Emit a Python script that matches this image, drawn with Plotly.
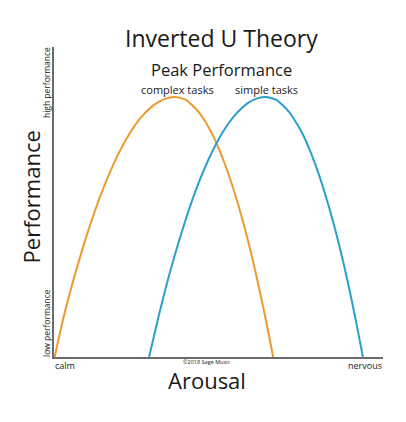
import plotly.graph_objects as go

# Arousal (0 = calm, 100 = nervous) and performance (0 = low, 100 = high)
complex_x = [0.2, 3, 6, 10, 14, 18, 22, 26, 30, 33.5, 36.8, 40, 44, 48, 52, 56, 60, 63, 65, 66.6]
complex_y = [0.0, 13.2, 25.2, 39.4, 51.7, 62.0, 70.3, 76.7, 81.0, 83.2, 83.9,
             83.0, 79.0, 72.1, 62.1, 49.1, 33.1, 19.0, 8.8, 0.0]

simple_x = [28.9, 32, 35, 39, 43, 47, 51, 55, 59, 62, 64.4, 67.5, 71.5, 75.5, 79.5, 83.5, 87.5, 90.5, 92.5, 93.9]
simple_y = [0.0, 14.0, 26.4, 40.9, 53.5, 63.8, 72.0, 78.0, 82.0, 83.5, 83.9,
            83.0, 79.0, 72.1, 61.9, 48.7, 32.5, 18.2, 7.7, 0.0]

title_text = "Inverted U Theory"
peak_text = "Peak Performance"
series_names = ["complex tasks", "simple tasks"]
x_labels = ["calm", "nervous"]
y_labels = ["low performance", "high performance"]

FONT = "Open Sans"
ORANGE = "#EE9A2E"
BLUE = "#2B9FCF"
TXT = "#1a1a1a"

fig = go.Figure()
fig.add_trace(go.Scatter(x=complex_x, y=complex_y, mode="lines", name=series_names[0],
                         line=dict(color=ORANGE, width=2, shape="spline", smoothing=0.6)))
fig.add_trace(go.Scatter(x=simple_x, y=simple_y, mode="lines", name=series_names[1],
                         line=dict(color=BLUE, width=2, shape="spline", smoothing=0.6)))

def ann(text, x, y, size, xanchor="center", yanchor="middle", angle=0):
    fig.add_annotation(text=text, x=x, y=y, xref="paper", yref="paper", showarrow=False,
                       xanchor=xanchor, yanchor=yanchor, textangle=angle, borderpad=0,
                       font=dict(family=FONT, size=size, color=TXT))

ann(title_text, 0.51, 1.029, 23)
ann(peak_text, 0.508, 0.926, 16.5)
ann(series_names[0], 0.374, 0.864, 11)
ann(series_names[1], 0.647, 0.864, 11)
ann("Performance", -0.07, 0.518, 22, angle=-90)
ann(y_labels[1], -0.021, 0.884, 8.5, angle=-90)
ann(y_labels[0], -0.021, 0.11, 8.5, angle=-90)
ann(x_labels[0], 0.0, -0.026, 9, xanchor="left")
ann(x_labels[1], 1.0, -0.026, 9, xanchor="right")
ann("©2018 Sage Music", 0.465, -0.017, 5.5)
ann("Arousal", 0.465, -0.075, 22)

fig.update_xaxes(range=[0, 100], showline=True, linecolor="#6b6b6b", linewidth=2,
                 showgrid=False, zeroline=False, showticklabels=False, ticks="")
fig.update_yaxes(range=[0, 100], showline=True, linecolor="#6b6b6b", linewidth=2,
                 showgrid=False, zeroline=False, showticklabels=False, ticks="")

fig.update_layout(width=398, height=414, margin=dict(l=46, r=23, t=39, b=65),
                  paper_bgcolor="white", plot_bgcolor="white", showlegend=False,
                  font=dict(family=FONT))

fig.write_html("out.html")
